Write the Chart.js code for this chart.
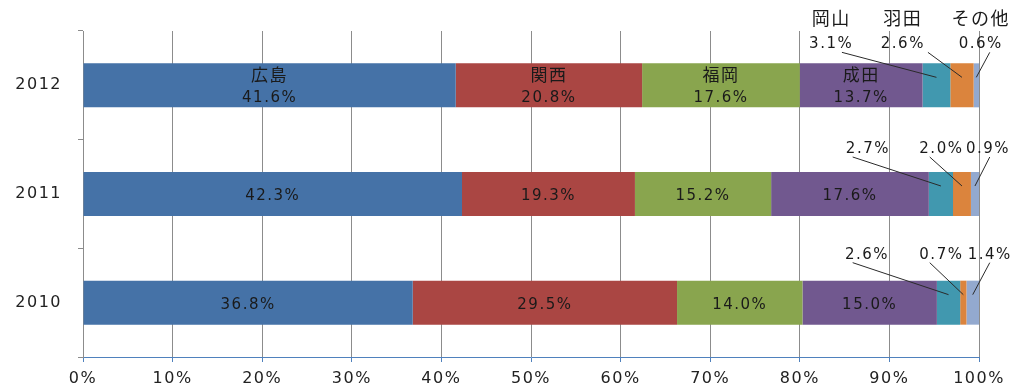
<!DOCTYPE html>
<html lang="ja">
<head>
<meta charset="utf-8">
<title>空港別シェア</title>
<script src="https://cdn.jsdelivr.net/npm/chart.js@4/dist/chart.umd.min.js"></script>
<style>
  html, body { margin: 0; padding: 0; background: #fff; }
  canvas { display: block; }
</style>
</head>
<body>
<canvas id="barChart" width="1011" height="390"></canvas>
<script>
// 年ごとの空港別シェア (%)
var years     = ['2012', '2011', '2010'];
var airports  = ['広島', '関西', '福岡', '成田', '岡山', '羽田', 'その他'];
var hiroshima = [41.6, 42.3, 36.8];
var kansai    = [20.8, 19.3, 29.5];
var fukuoka   = [17.6, 15.2, 14.0];
var narita    = [13.7, 17.6, 15.0];
var okayama   = [3.1, 2.7, 2.6];
var haneda    = [2.6, 2.0, 0.7];
var others    = [0.6, 0.9, 1.4];
var xTicks    = [0, 10, 20, 30, 40, 50, 60, 70, 80, 90, 100];

var shares = [hiroshima, kansai, fukuoka, narita, okayama, haneda, others];
var colors = ['#4572A7', '#AA4643', '#89A54E', '#71588F', '#4198AF', '#DB843D', '#93A9CF'];

// 数字は DejaVu Sans、漢字は Noto Sans CJK JP にフォールバック
var FONT = '"DejaVu Sans", "Noto Sans CJK JP", sans-serif';
var FONT_JP = '"Noto Sans CJK JP", sans-serif';

// 小さい区間のラベル位置 [ラベル中心x, 引き出し線の始点x] (軸の値)
var callouts = [
  [[83.5, 84.7], [91.5, 94.3], [100.2, 101.2]],
  [[87.6, 85.9], [95.8, 94.5], [101.0, 101.2]],
  [[87.5, 85.9], [95.8, 94.5], [101.2, 101.2]]
];
var rowLift = [19, 23, 26];

// 文字間を少し広げる
var spacingPlugin = {
  id: 'spacing',
  beforeDraw: function(chart) {
    chart.ctx.letterSpacing = '1.5px';
  }
};

var labelPlugin = {
  id: 'shareLabels',
  afterDatasetsDraw: function(chart) {
    var ctx = chart.ctx;
    var xs = chart.scales.x;
    ctx.save();
    ctx.fillStyle = '#1a1a1a';
    ctx.strokeStyle = '#2a2a2a';
    ctx.lineWidth = 1;
    ctx.textAlign = 'center';
    ctx.textBaseline = 'middle';
    chart.data.datasets.forEach(function(ds, i) {
      var meta = chart.getDatasetMeta(i);
      meta.data.forEach(function(bar, j) {
        var v = ds.data[j];
        var cx = (bar.x + bar.base) / 2;
        var top = bar.y - bar.height / 2;
        var text = v.toFixed(1) + '%';
        if (i < 4) {
          if (j === 0) {
            ctx.font = '17px ' + FONT_JP;
            ctx.fillText(ds.label, cx, bar.y - 11);
            ctx.font = '15px ' + FONT;
            ctx.fillText(text, cx, bar.y + 13);
          } else {
            ctx.font = '15px ' + FONT;
            ctx.fillText(text, cx, bar.y + 2);
          }
        } else {
          var c = callouts[j][i - 4];
          var lx = xs.getPixelForValue(c[0]);
          var ly = top - rowLift[j];
          ctx.font = '15px ' + FONT;
          ctx.fillText(text, lx, ly);
          if (j === 0) {
            ctx.font = '18px ' + FONT_JP;
            ctx.fillText(ds.label, lx, ly - 26);
          }
          ctx.beginPath();
          ctx.moveTo(xs.getPixelForValue(c[1]), ly + 8);
          ctx.lineTo(cx, top + 14);
          ctx.stroke();
        }
      });
    });
    ctx.restore();
  }
};

var datasets = airports.map(function(name, i) {
  return {
    label: name,
    data: shares[i],
    backgroundColor: colors[i],
    borderWidth: 0,
    barPercentage: 0.405,
    categoryPercentage: 1.0
  };
});

new Chart(document.getElementById('barChart').getContext('2d'), {
  type: 'bar',
  data: { labels: years, datasets: datasets },
  options: {
    indexAxis: 'y',
    responsive: false,
    animation: false,
    layout: { padding: { top: 31, right: 32, left: 0, bottom: 0 } },
    plugins: {
      legend: { display: false },
      tooltip: { enabled: false }
    },
    scales: {
      x: {
        stacked: true,
        min: 0,
        max: 100,
        afterFit: function(scale) { scale.height = 33; },
        afterBuildTicks: function(scale) {
          scale.ticks = xTicks.map(function(v) { return { value: v }; });
        },
        grid: { color: '#8c8c8c', tickColor: '#4F81BD', tickLength: 5 },
        border: { color: '#4F81BD', width: 1 },
        ticks: {
          padding: 7,
          color: '#222',
          font: { family: FONT, size: 16 },
          callback: function(v) { return v + '%'; }
        }
      },
      y: {
        stacked: true,
        afterFit: function(scale) { scale.width = 83; },
        grid: { drawOnChartArea: false, offset: true, color: '#8c8c8c', tickLength: 5 },
        border: { color: '#8c8c8c', width: 1 },
        ticks: {
          padding: 16,
          color: '#222',
          font: { family: FONT, size: 16 }
        }
      }
    }
  },
  plugins: [spacingPlugin, labelPlugin]
});
</script>
</body>
</html>
